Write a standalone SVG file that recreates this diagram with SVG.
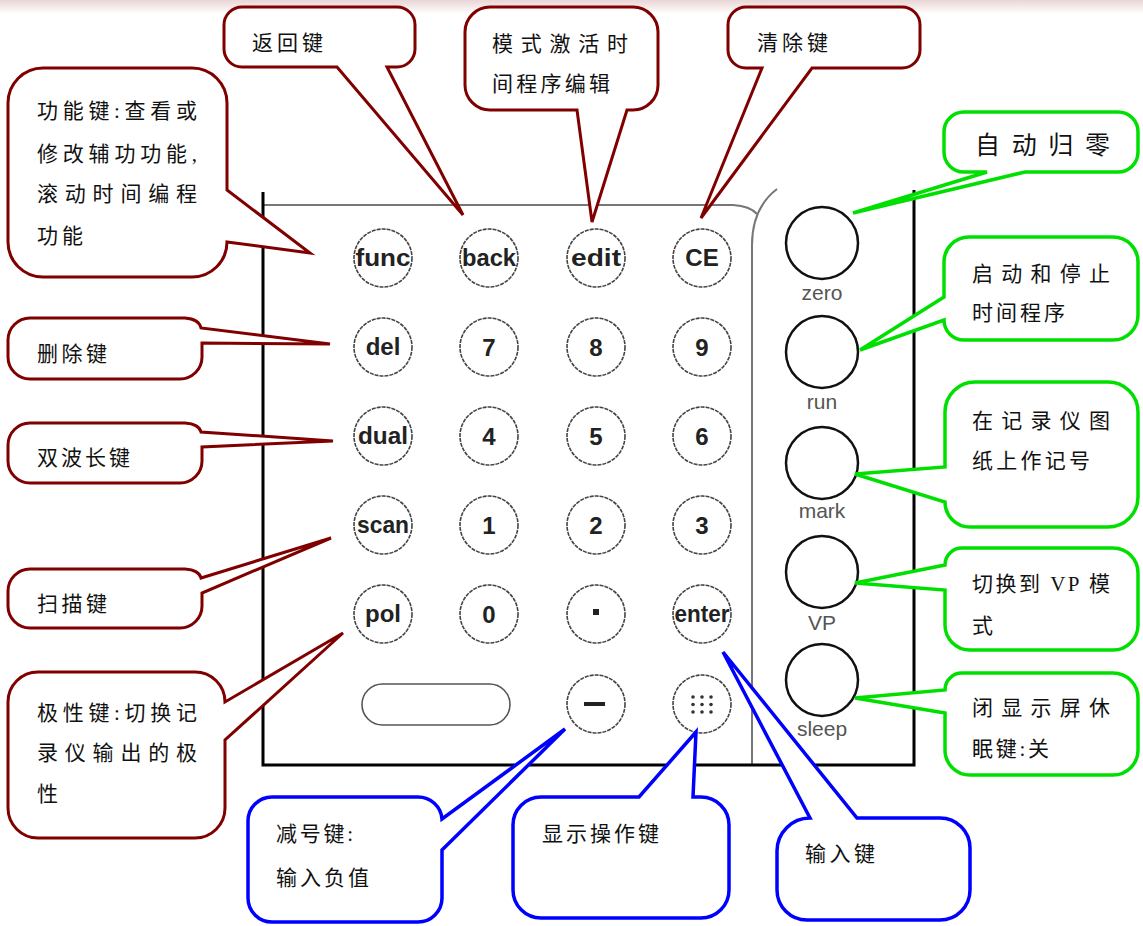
<svg xmlns="http://www.w3.org/2000/svg" width="1143" height="926" viewBox="0 0 1143 926">
<defs>
<linearGradient id="topband" x1="0" y1="0" x2="0" y2="1">
<stop offset="0" stop-color="#ead6d6"/>
<stop offset="1" stop-color="#ffffff"/>
</linearGradient>
<style>
.red{fill:#fff;stroke:#800000;stroke-width:3;stroke-linejoin:miter}
.blue{fill:#fff;stroke:#0000ff;stroke-width:3.5;stroke-linejoin:miter}
.green{fill:#fff;stroke:#00e000;stroke-width:3.5;stroke-linejoin:miter}
.lbl{font-family:"Liberation Serif","Noto Sans CJK SC",serif;font-size:21px;fill:#111}
.key{fill:#fff;stroke:#444;stroke-width:1.6;stroke-dasharray:4 1}
.kt{font-family:"Liberation Sans",Arial,sans-serif;font-weight:bold;font-size:24px;fill:#222;text-anchor:middle}
.big{fill:#fff;stroke:#111;stroke-width:2.5}
.bt{font-family:"Liberation Sans",Arial,sans-serif;font-size:21px;fill:#555;text-anchor:middle}
.frame{fill:none;stroke:#000;stroke-width:3}
.gray{fill:none;stroke:#777;stroke-width:2}
</style>
</defs>
<rect x="0" y="0" width="1143" height="926" fill="#fff"/>
<rect x="0" y="0" width="1143" height="14" fill="url(#topband)"/>

<g id="keypad">
<path class="gray" d="M263,205 H733 Q750,206 757,214"/>
<path class="gray" d="M752,765 V245 C752,220 760,202 777,189"/>
<path class="frame" d="M263,192 V765 H914 V190"/>
</g>

<g id="keys">
<g id="key-func"><circle class="key" cx="383" cy="258" r="29"/><text class="kt" x="383" y="266" textLength="55" lengthAdjust="spacingAndGlyphs">func</text></g>
<g id="key-back"><circle class="key" cx="489" cy="258" r="29"/><text class="kt" x="489" y="266" textLength="54" lengthAdjust="spacingAndGlyphs">back</text></g>
<g id="key-edit"><circle class="key" cx="596" cy="258" r="29"/><text class="kt" x="596" y="266" textLength="50" lengthAdjust="spacingAndGlyphs">edit</text></g>
<g id="key-ce"><circle class="key" cx="702" cy="258" r="29"/><text class="kt" x="702" y="266">CE</text></g>
<g id="key-del"><circle class="key" cx="383" cy="347" r="29"/><text class="kt" x="383" y="355">del</text></g>
<g id="key-7"><circle class="key" cx="489" cy="347" r="29"/><text class="kt" x="489" y="356">7</text></g>
<g id="key-8"><circle class="key" cx="596" cy="347" r="29"/><text class="kt" x="596" y="356">8</text></g>
<g id="key-9"><circle class="key" cx="702" cy="347" r="29"/><text class="kt" x="702" y="356">9</text></g>
<g id="key-dual"><circle class="key" cx="383" cy="436" r="29"/><text class="kt" x="383" y="444" textLength="50" lengthAdjust="spacingAndGlyphs">dual</text></g>
<g id="key-4"><circle class="key" cx="489" cy="436" r="29"/><text class="kt" x="489" y="445">4</text></g>
<g id="key-5"><circle class="key" cx="596" cy="436" r="29"/><text class="kt" x="596" y="445">5</text></g>
<g id="key-6"><circle class="key" cx="702" cy="436" r="29"/><text class="kt" x="702" y="445">6</text></g>
<g id="key-scan"><circle class="key" cx="383" cy="525" r="29"/><text class="kt" x="383" y="533" textLength="52" lengthAdjust="spacingAndGlyphs">scan</text></g>
<g id="key-1"><circle class="key" cx="489" cy="525" r="29"/><text class="kt" x="489" y="534">1</text></g>
<g id="key-2"><circle class="key" cx="596" cy="525" r="29"/><text class="kt" x="596" y="534">2</text></g>
<g id="key-3"><circle class="key" cx="702" cy="525" r="29"/><text class="kt" x="702" y="534">3</text></g>
<g id="key-pol"><circle class="key" cx="383" cy="614" r="29"/><text class="kt" x="383" y="622">pol</text></g>
<g id="key-0"><circle class="key" cx="489" cy="614" r="29"/><text class="kt" x="489" y="623">0</text></g>
<g id="key-dot"><circle class="key" cx="596" cy="614" r="29"/><rect x="593" y="609" width="6" height="6" fill="#222"/></g>
<g id="key-enter"><circle class="key" cx="702" cy="614" r="29"/><text class="kt" x="702" y="622" textLength="55" lengthAdjust="spacingAndGlyphs">enter</text></g>
<g id="key-space"><rect x="362" y="684" width="148" height="41" rx="20.5" fill="#fff" stroke="#555" stroke-width="1.6"/></g>
<g id="key-minus"><circle class="key" cx="596" cy="704" r="29"/><rect x="584" y="702" width="21" height="4" fill="#222"/></g>
<g id="key-display"><circle class="key" cx="702" cy="704" r="29"/>
<g fill="#333"><circle cx="693" cy="697" r="1.8"/><circle cx="702" cy="697" r="1.8"/><circle cx="711" cy="697" r="1.8"/><circle cx="693" cy="704.5" r="1.8"/><circle cx="702" cy="704.5" r="1.8"/><circle cx="711" cy="704.5" r="1.8"/><circle cx="693" cy="712" r="1.8"/><circle cx="702" cy="712" r="1.8"/><circle cx="711" cy="712" r="1.8"/></g></g>
<g id="key-zero"><circle class="big" cx="822" cy="243" r="36"/><text class="bt" x="822" y="300">zero</text></g>
<g id="key-run"><circle class="big" cx="822" cy="352" r="36"/><text class="bt" x="822" y="409">run</text></g>
<g id="key-mark"><circle class="big" cx="822" cy="463" r="36"/><text class="bt" x="822" y="518">mark</text></g>
<g id="key-vp"><circle class="big" cx="822" cy="572" r="36"/><text class="bt" x="822" y="630">VP</text></g>
<g id="key-sleep"><circle class="big" cx="822" cy="680" r="36"/><text class="bt" x="822" y="736">sleep</text></g>
</g>

<g id="connectors"></g>

<g id="callout-back">
<path class="red" d="M242,7 H397 A18,18 0 0 1 415,25 V49 A18,18 0 0 1 397,67 H387 L463,215 L337,67 H242 A18,18 0 0 1 224,49 V25 A18,18 0 0 1 242,7 Z"/>
<text class="lbl" x="252" y="50" textLength="71" lengthAdjust="spacing">返回键</text>
</g>
<g id="callout-edit">
<path class="red" d="M490,7 H633 A25,25 0 0 1 658,32 V85 A25,25 0 0 1 633,110 H627 L592,222 L577,110 H490 A25,25 0 0 1 465,85 V32 A25,25 0 0 1 490,7 Z"/>
<text class="lbl" x="492" y="51" textLength="136" lengthAdjust="spacing">模式激活时</text>
<text class="lbl" x="492" y="91" textLength="118" lengthAdjust="spacing">间程序编辑</text>
</g>
<g id="callout-ce">
<path class="red" d="M746,7 H902 A18,18 0 0 1 920,25 V50 A18,18 0 0 1 902,68 H812 L701,218 L762,68 H746 A18,18 0 0 1 728,50 V25 A18,18 0 0 1 746,7 Z"/>
<text class="lbl" x="757" y="50" textLength="71" lengthAdjust="spacing">清除键</text>
</g>
<g id="callout-func">
<path class="red" d="M43,68 H192 A35,35 0 0 1 227,103 V190 L310,253 L227,242 A35,35 0 0 1 192,277 H43 A35,35 0 0 1 8,242 V103 A35,35 0 0 1 43,68 Z"/>
<text class="lbl" x="37" y="118" textLength="160" lengthAdjust="spacing">功能键:查看或</text>
<text class="lbl" x="37" y="161" textLength="160" lengthAdjust="spacing">修改辅功功能,</text>
<text class="lbl" x="37" y="201" textLength="160" lengthAdjust="spacing">滚动时间编程</text>
<text class="lbl" x="37" y="243" textLength="46" lengthAdjust="spacing">功能</text>
</g>
<g id="callout-del">
<path class="red" d="M30,318 H185 Q199,319 201,328 L330,344 L202,343 V357 A22,22 0 0 1 180,379 H30 A22,22 0 0 1 8,357 V340 A22,22 0 0 1 30,318 Z"/>
<text class="lbl" x="37" y="361" textLength="70" lengthAdjust="spacing">删除键</text>
</g>
<g id="callout-dual">
<path class="red" d="M30,423 H185 Q199,424 201,432 L333,441 L202,447 V461 A22,22 0 0 1 180,483 H30 A22,22 0 0 1 8,461 V445 A22,22 0 0 1 30,423 Z"/>
<text class="lbl" x="37" y="465" textLength="93" lengthAdjust="spacing">双波长键</text>
</g>
<g id="callout-scan">
<path class="red" d="M30,569 H185 Q199,570 201,578 L331,538 L202,593 V606 A22,22 0 0 1 180,628 H30 A22,22 0 0 1 8,606 V591 A22,22 0 0 1 30,569 Z"/>
<text class="lbl" x="37" y="611" textLength="70" lengthAdjust="spacing">扫描键</text>
</g>
<g id="callout-pol">
<path class="red" d="M38,672 H195 A30,30 0 0 1 225,702 L343,633 L225,740 V808 A30,30 0 0 1 195,838 H38 A30,30 0 0 1 8,808 V702 A30,30 0 0 1 38,672 Z"/>
<text class="lbl" x="37" y="720" textLength="160" lengthAdjust="spacing">极性键:切换记</text>
<text class="lbl" x="37" y="760" textLength="160" lengthAdjust="spacing">录仪输出的极</text>
<text class="lbl" x="37" y="801">性</text>
</g>
<g id="callout-minus">
<path class="blue" d="M272,797 H418 A24,24 0 0 1 442,819 L565,729 L442,850 V898 A24,24 0 0 1 418,922 H272 A24,24 0 0 1 248,898 V821 A24,24 0 0 1 272,797 Z"/>
<text class="lbl" x="276" y="841" textLength="77" lengthAdjust="spacing">减号键:</text>
<text class="lbl" x="276" y="885" textLength="93" lengthAdjust="spacing">输入负值</text>
</g>
<g id="callout-display">
<path class="blue" d="M541,797 H639 L696,732 L693,797 H701 A28,28 0 0 1 729,825 V890 A28,28 0 0 1 701,918 H541 A28,28 0 0 1 513,890 V825 A28,28 0 0 1 541,797 Z"/>
<text class="lbl" x="542" y="841" textLength="117" lengthAdjust="spacing">显示操作键</text>
</g>
<g id="callout-enter">
<path class="blue" d="M810,818 L723,652 L857,818 H940 A30,30 0 0 1 970,848 V890 A30,30 0 0 1 940,920 H807 A30,30 0 0 1 777,890 V851 A33,33 0 0 1 810,818 Z"/>
<text class="lbl" x="805" y="861" textLength="70" lengthAdjust="spacing">输入键</text>
</g>
<g id="callout-zero">
<path class="green" d="M964,112 H1118 A20,20 0 0 1 1138,132 V152 A20,20 0 0 1 1118,172 H1025 L853,213 L987,172 H964 A20,20 0 0 1 944,152 V132 A20,20 0 0 1 964,112 Z"/>
<text class="lbl" x="975" y="154" style="font-size:25px" textLength="135" lengthAdjust="spacing">自动归零</text>
</g>
<g id="callout-run">
<path class="green" d="M969,237 H1113 A25,25 0 0 1 1138,262 V315 A25,25 0 0 1 1113,340 H964 A20,20 0 0 1 944,320 L860,350 L944,297 V262 A25,25 0 0 1 969,237 Z"/>
<text class="lbl" x="972" y="281" textLength="138" lengthAdjust="spacing">启动和停止</text>
<text class="lbl" x="972" y="320" textLength="93" lengthAdjust="spacing">时间程序</text>
</g>
<g id="callout-mark">
<path class="green" d="M975,382 H1108 A30,30 0 0 1 1138,412 V497 A30,30 0 0 1 1108,527 H970 A25,25 0 0 1 945,502 L855,474 L945,467 V412 A30,30 0 0 1 975,382 Z"/>
<text class="lbl" x="972" y="428" textLength="138" lengthAdjust="spacing">在记录仪图</text>
<text class="lbl" x="972" y="468" textLength="118" lengthAdjust="spacing">纸上作记号</text>
</g>
<g id="callout-vp">
<path class="green" d="M970,548 H1113 A25,25 0 0 1 1138,573 V625 A25,25 0 0 1 1113,650 H970 A25,25 0 0 1 945,625 V590 L855,583 L945,565 A17,17 0 0 1 962,548 Z"/>
<text class="lbl" x="972" y="591" textLength="138" lengthAdjust="spacing">切换到 VP 模</text>
<text class="lbl" x="972" y="633">式</text>
</g>
<g id="callout-sleep">
<path class="green" d="M965,673 H1113 A25,25 0 0 1 1138,698 V750 A25,25 0 0 1 1113,775 H970 A25,25 0 0 1 945,750 V713 L855,698 L945,690 A17,17 0 0 1 962,673 Z"/>
<text class="lbl" x="972" y="715" textLength="138" lengthAdjust="spacing">闭显示屏休</text>
<text class="lbl" x="972" y="756" textLength="77" lengthAdjust="spacing">眠键:关</text>
</g>
</svg>
